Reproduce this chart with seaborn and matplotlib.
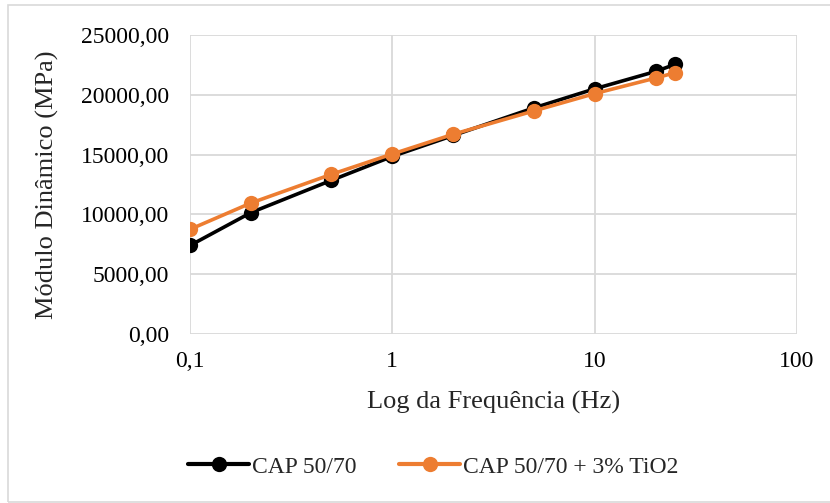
import numpy as np
import pandas as pd
import matplotlib
matplotlib.use("Agg")
import matplotlib.pyplot as plt
from matplotlib.patches import Rectangle
from matplotlib.lines import Line2D
from matplotlib.ticker import FixedLocator, FuncFormatter, NullLocator
import seaborn as sns

# Frequência (Hz) e módulo dinâmico (MPa)
frequencia = [0.1, 0.2, 0.5, 1, 2, 5, 10, 20, 25]
modulo_cap = [7400, 10150, 12850, 14850, 16600, 18900, 20500, 21950, 22550]
modulo_tio2 = [8750, 10950, 13350, 15050, 16700, 18650, 20100, 21400, 21850]
series_nomes = ["CAP 50/70", "CAP 50/70 + 3% TiO2"]
cores = ["#000000", "#ED7D31"]
y_ticks = [0, 5000, 10000, 15000, 20000, 25000]
x_ticks = [0.1, 1, 10, 100]
x_tick_labels = ["0,1", "1", "10", "100"]

df = pd.DataFrame({
    "freq": frequencia * 2,
    "modulo": modulo_cap + modulo_tio2,
    "serie": [series_nomes[0]] * len(frequencia) + [series_nomes[1]] * len(frequencia),
})

sns.set_theme(style="white")
plt.rcParams["font.family"] = ["Liberation Serif", "DejaVu Serif"]

fig = plt.figure(figsize=(8.3, 5.03), dpi=100)
fig.patches.append(Rectangle((8 / 830, 0.002), 1.2, 1 - 0.002 - 5 / 503,
                             transform=fig.transFigure, fill=False,
                             edgecolor="#D9D9D9", linewidth=1.2))
ax = fig.add_axes([190 / 830, 1 - 334 / 503, (797 - 190) / 830, (334 - 35) / 503])

sns.lineplot(data=df, x="freq", y="modulo", hue="serie", palette=cores,
             hue_order=series_nomes, marker="o", markersize=11,
             markeredgewidth=0, linewidth=2.6, ax=ax, legend=False)

ax.set_xscale("log")
ax.set_xlim(0.1, 100)
ax.set_ylim(0, 25000)
ax.xaxis.set_major_locator(FixedLocator(x_ticks))
ax.xaxis.set_minor_locator(NullLocator())
ax.set_xticklabels(x_tick_labels)
ax.yaxis.set_major_locator(FixedLocator(y_ticks))
ax.yaxis.set_major_formatter(FuncFormatter(lambda v, p: f"{v:.2f}".replace(".", ",")))

ax.grid(True, color="#D9D9D9", linewidth=1.3)
ax.set_axisbelow(True)
for s in ax.spines.values():
    s.set_visible(False)
ax.tick_params(axis="both", length=0, labelsize=17, colors="#000000")
ax.tick_params(axis="x", pad=12)
ax.tick_params(axis="y", pad=15)

ax.set_xlabel("Log da Frequência (Hz)", fontsize=19, labelpad=14)
ax.set_ylabel("Módulo Dinâmico (MPa)", fontsize=19, labelpad=16)

handles = [Line2D([], [], color=c, marker="o", markersize=11, markeredgewidth=0,
                  linewidth=3) for c in cores]
fig.legend(handles, series_nomes, loc="center", bbox_to_anchor=(433 / 830, 1 - 467 / 503),
           ncol=2, frameon=False, fontsize=17, handlelength=2.6, handletextpad=0.1,
           columnspacing=1.8)

fig.savefig("out.png", dpi=100)
